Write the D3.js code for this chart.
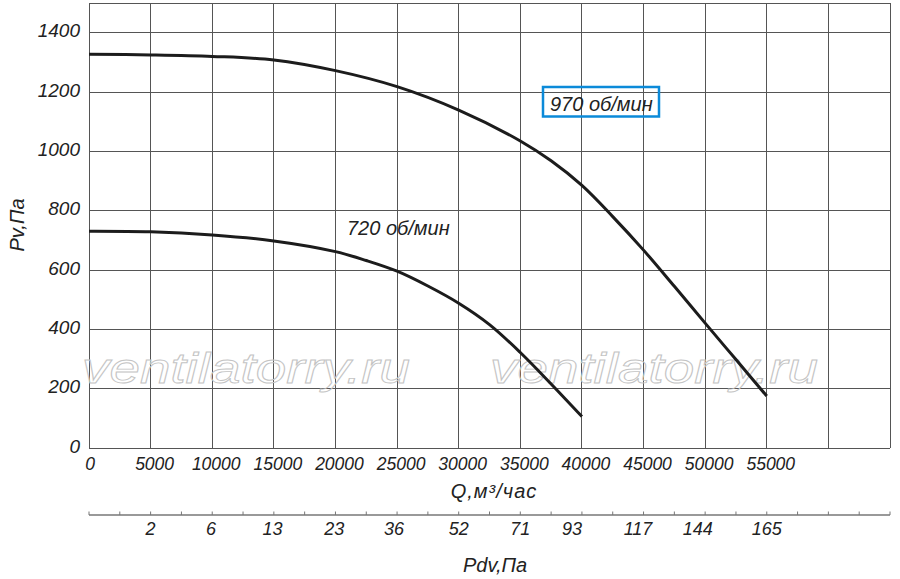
<!DOCTYPE html>
<html>
<head>
<meta charset="utf-8">
<script src="https://cdn.jsdelivr.net/npm/d3@7"></script>
<style>
  body { margin: 0; background: #fff; }
  svg { display: block; font-family: "Liberation Sans", Arial, sans-serif; font-style: italic; }
</style>
</head>
<body>
<div class="chart"></div>
<script>
// Q, м3/час for each curve and static pressure Pv, Па
var q970 = [0, 5000, 10000, 15000, 20000, 25000, 30000, 35000, 37500, 40000, 42500, 45000, 47500, 50000, 52500, 55000];
var pv970 = [1327, 1325, 1320, 1308, 1272, 1218, 1139, 1035, 968, 885, 780, 667, 545, 421, 298, 175];

var q720 = [0, 5000, 10000, 15000, 20000, 22500, 25000, 27500, 30000, 32500, 35000, 37500, 40000];
var pv720 = [731, 729, 718, 698, 662, 632, 596, 546, 488, 416, 322, 216, 106];

var xTicks = [0, 5000, 10000, 15000, 20000, 25000, 30000, 35000, 40000, 45000, 50000, 55000];
var yTicks = [0, 200, 400, 600, 800, 1000, 1200, 1400];

// dynamic pressure scale under the Q axis
var pdvLabels = [2, 6, 13, 23, 36, 52, 71, 93, 117, 144, 165];
var pdvQ = [5000, 9900, 14900, 19900, 24750, 30000, 35000, 39200, 44550, 49400, 55000];

var width = 900, height = 579;

var svg = d3.select('.chart').append('svg')
	.attr('width', width)
	.attr('height', height);

var x = d3.scaleLinear().domain([0, 65000]).range([89, 890]);
var y = d3.scaleLinear().domain([0, 1500]).range([448, 3]);

var gridColor = '#555';

// grid
var grid = svg.append('g').attr('shape-rendering', 'crispEdges');
grid.selectAll('.vline').data(d3.range(0, 65001, 5000))
	.enter().append('line')
	.attr('x1', x).attr('x2', x)
	.attr('y1', y(0)).attr('y2', y(1500))
	.attr('stroke', gridColor).attr('stroke-width', 1);
grid.selectAll('.hline').data(d3.range(0, 1501, 200).concat([1500]))
	.enter().append('line')
	.attr('x1', x(0)).attr('x2', x(65000))
	.attr('y1', y).attr('y2', y)
	.attr('stroke', gridColor).attr('stroke-width', 1);

// watermarks
var marks = [[82, 383], [490, 383]];
svg.selectAll('.wm').data(marks)
	.enter().append('text')
	.attr('x', function(d) { return d[0]; })
	.attr('y', function(d) { return d[1]; })
	.attr('font-size', 42)
	.attr('textLength', 328)
	.attr('lengthAdjust', 'spacingAndGlyphs')
	.attr('fill', 'none')
	.attr('stroke', '#c4c4c4')
	.attr('stroke-width', 0.9)
	.text('ventilatorry.ru');

// curves
var line = d3.line()
	.x(function(d) { return x(d[0]); })
	.y(function(d) { return y(d[1]); })
	.curve(d3.curveCatmullRom.alpha(0.5));

[[q970, pv970], [q720, pv720]].forEach(function(s) {
	svg.append('path')
		.datum(d3.zip(s[0], s[1]))
		.attr('d', line)
		.attr('fill', 'none')
		.attr('stroke', '#1c1c1c')
		.attr('stroke-width', 3);
});

// y tick labels
svg.selectAll('.ylab').data(yTicks)
	.enter().append('text')
	.attr('x', 80)
	.attr('y', function(d) { return y(d) + 4.5; })
	.attr('text-anchor', 'end')
	.attr('font-size', 19)
	.attr('fill', '#222')
	.text(function(d) { return d; });

// x tick labels
svg.selectAll('.xlab').data(xTicks)
	.enter().append('text')
	.attr('x', function(d) { return x(d) + (d === 0 ? 1 : 4); })
	.attr('y', 470)
	.attr('text-anchor', 'middle')
	.attr('font-size', 17.5)
	.attr('fill', '#222')
	.text(function(d) { return d; });

// axis titles
svg.append('text')
	.attr('x', 494).attr('y', 498)
	.attr('text-anchor', 'middle')
	.attr('font-size', 20)
	.attr('letter-spacing', 1)
	.attr('fill', '#222')
	.text('Q,м³/час');

svg.append('text')
	.attr('transform', 'translate(24,225) rotate(-90)')
	.attr('text-anchor', 'middle')
	.attr('font-size', 20)
	.attr('fill', '#222')
	.text('Pv,Па');

// Pdv scale
var pdv = svg.append('g');
pdv.append('line')
	.attr('x1', x(0)).attr('x2', x(65000))
	.attr('y1', 515).attr('y2', 515)
	.attr('stroke', '#777').attr('stroke-width', 1.5);
pdv.selectAll('.ptick').data(d3.range(0, 65001, 2500))
	.enter().append('line')
	.attr('x1', x).attr('x2', x)
	.attr('y1', 515).attr('y2', 511.5)
	.attr('stroke', '#777').attr('stroke-width', 1);
pdv.selectAll('.plab').data(pdvLabels)
	.enter().append('text')
	.attr('x', function(d, i) { return x(pdvQ[i]); })
	.attr('y', 535)
	.attr('text-anchor', 'middle')
	.attr('font-size', 18)
	.attr('fill', '#222')
	.text(function(d) { return d; });
svg.append('text')
	.attr('x', 495).attr('y', 572)
	.attr('text-anchor', 'middle')
	.attr('font-size', 20)
	.attr('fill', '#222')
	.text('Pdv,Па');

// speed labels
svg.append('text')
	.attr('x', 347).attr('y', 235)
	.attr('font-size', 20)
	.attr('fill', '#222')
	.text('720 об/мин');

svg.append('rect')
	.attr('x', 543).attr('y', 87)
	.attr('width', 116).attr('height', 29.5)
	.attr('fill', 'none')
	.attr('stroke', '#0b8ad9')
	.attr('stroke-width', 2.5);
svg.append('text')
	.attr('x', 550).attr('y', 111)
	.attr('font-size', 20)
	.attr('fill', '#222')
	.text('970 об/мин');
</script>
</body>
</html>
